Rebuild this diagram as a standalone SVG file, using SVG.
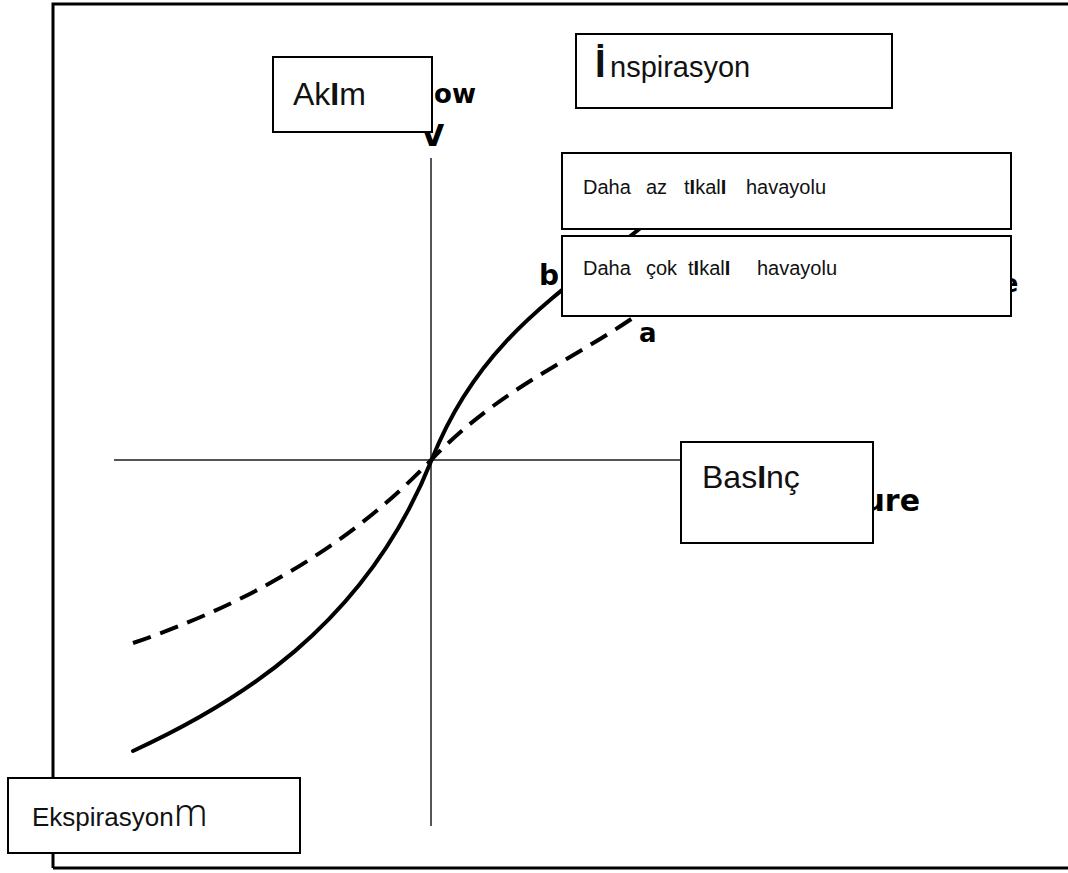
<svg xmlns="http://www.w3.org/2000/svg" width="1068" height="873" viewBox="0 0 1068 873">
<style>
.frame{stroke:#000;stroke-width:3;fill:none}
.axis{stroke:#555;stroke-width:2;fill:none}
.curve{stroke:#000;stroke-width:4;fill:none;stroke-linecap:round}
.dash{stroke-dasharray:19 10;stroke-linecap:butt}
.box{fill:#fff;stroke:#000;stroke-width:2}
.lbl{font-family:"Liberation Sans",Arial,sans-serif;fill:#111}
.old{font-family:"DejaVu Sans","Liberation Sans",sans-serif;font-weight:bold;fill:#000}
.ch{font-family:"DejaVu Sans","Liberation Sans",sans-serif;font-weight:bold;fill:#000}
</style>
<rect width="1068" height="873" fill="#fff"/>
<g id="frame">
<path class="frame" d="M53,868 V4 H1068"/>
<path class="frame" d="M53,868 H1068"/>
</g>
<g id="connectors">
<path class="axis" d="M431,158 V826"/>
<path class="axis" d="M114,460 H690"/>
<path id="curve-b" class="curve" d="M133,751 C233,705 365,628 432,459 C482,334 565,292 660,212"/>
<path id="curve-a" class="curve dash" d="M133,643 C233,609 342,554 432,459 C502,387 570,362 640,313"/>
</g>
<g id="old-labels">
<text class="old" x="476" y="103" font-size="26" text-anchor="end">ow</text>
<text class="old" x="421" y="146" font-size="30">V</text>
<text class="old" x="920" y="511" font-size="30" text-anchor="end">ure</text>
<text class="old" x="1002" y="292" font-size="24" fill="#666">e</text>
<text class="ch" x="539" y="285" font-size="28">b</text>
<text class="ch" x="639" y="342" font-size="26">a</text>
</g>
<g id="node-akim">
<rect class="box" x="273" y="57" width="159" height="75"/>
<text class="lbl" x="293" y="105" font-size="32">Ak<tspan font-weight="bold">I</tspan>m</text>
</g>
<g id="node-inspirasyon">
<rect class="box" x="576" y="34" width="316" height="74"/>
<text class="lbl" x="595" y="77" font-size="38" font-weight="bold" font-family="'DejaVu Serif','Liberation Serif',serif">İ</text>
<text class="lbl" x="610" y="77" font-size="29">nspirasyon</text>
</g>
<g id="node-az">
<rect class="box" x="562" y="153" width="449" height="76"/>
<text class="lbl" y="194" font-size="20"><tspan x="583">Daha</tspan><tspan x="646">az</tspan><tspan x="684">t<tspan font-weight="bold">I</tspan>kal<tspan font-weight="bold">I</tspan></tspan><tspan x="746">havayolu</tspan></text>
</g>
<g id="node-cok">
<rect class="box" x="562" y="236" width="449" height="80"/>
<text class="lbl" y="275" font-size="20"><tspan x="583">Daha</tspan><tspan x="646">çok</tspan><tspan x="688">t<tspan font-weight="bold">I</tspan>kal<tspan font-weight="bold">I</tspan></tspan><tspan x="757">havayolu</tspan></text>
</g>
<g id="node-basinc">
<rect class="box" x="681" y="442" width="192" height="101"/>
<text class="lbl" x="702" y="488" font-size="32">Bas<tspan font-weight="bold">I</tspan>nç</text>
</g>
<g id="node-ekspirasyon">
<rect class="box" x="8" y="778" width="292" height="75"/>
<text class="lbl" x="32" y="826" font-size="26">Ekspirasyon<tspan font-size="38" font-family="'Noto Sans',sans-serif" font-weight="300">m</tspan></text>
</g>
</svg>
